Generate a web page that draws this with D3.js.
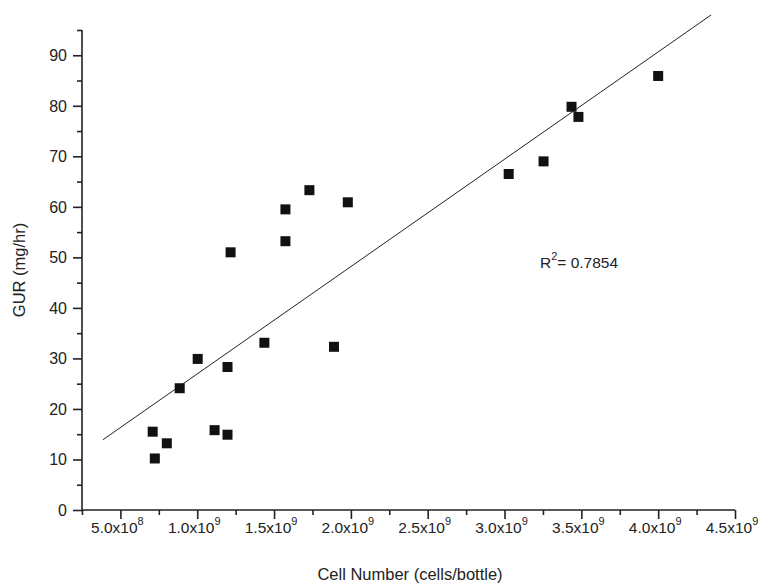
<!DOCTYPE html>
<html><head><meta charset="utf-8">
<script src="https://cdn.jsdelivr.net/npm/d3@7"></script>
<style>body{margin:0;background:#fff}text{font-family:"Liberation Sans",Arial,sans-serif;fill:#222}</style>
</head><body><svg id="c" width="770" height="585"></svg>
<script>
var cells = [7.1e8, 7.24e8, 8.02e8, 8.86e8, 1.003e9, 1.113e9, 1.197e9, 1.197e9, 1.217e9, 1.437e9,
  1.574e9, 1.574e9, 1.73e9, 1.89e9, 1.98e9, 3.027e9, 3.254e9, 3.436e9, 3.481e9, 4.0e9];
var gur = [15.5, 10.2, 13.2, 24.1, 29.9, 15.8, 14.9, 28.3, 51.0, 33.1,
  53.2, 59.5, 63.3, 32.3, 60.9, 66.5, 69.0, 79.8, 77.8, 85.9];
var fitX = [3.86e8, 4.345e9];
var fitSlope = 2.124e-8, fitIntercept = 5.7;
var xTicks = [5e8, 1e9, 1.5e9, 2e9, 2.5e9, 3e9, 3.5e9, 4e9, 4.5e9];
var yTicks = [0, 10, 20, 30, 40, 50, 60, 70, 80, 90];

var svg = d3.select("#c");
var x = d3.scaleLinear().domain([2.5e8, 4.5e9]).range([82, 735]);
var y = d3.scaleLinear().domain([0, 95]).range([510, 30]);

// x axis
var xa = svg.append("g").attr("transform", "translate(0,510)")
  .call(d3.axisBottom(x).tickValues(d3.range(2.5e8, 4.51e9, 2.5e8)).tickSize(5).tickFormat(""));
xa.selectAll(".tick line").attr("y2", (d, i) => i % 2 ? 9 : 5);
xa.selectAll("path,line").attr("stroke", "#222").attr("stroke-width", 1.6);
xa.select(".domain").attr("d", "M82,0H735");
xTicks.forEach(function (v) {
  var exp = Math.floor(Math.log10(v) + 1e-9), m = v / Math.pow(10, exp);
  var t = svg.append("text").attr("x", x(v) - 3).attr("y", 533).attr("text-anchor", "middle").attr("font-size", 15.5);
  t.append("tspan").text(m.toFixed(1) + "x10");
  t.append("tspan").attr("dy", -8).attr("font-size", 11).text(exp);
});

// y axis
var ya = svg.append("g").attr("transform", "translate(82,0)")
  .call(d3.axisLeft(y).tickValues(d3.range(0, 95.1, 5)).tickSize(5).tickFormat(""));
ya.selectAll(".tick line").attr("x2", (d) => d % 10 === 0 ? -9 : -5);
ya.selectAll("path,line").attr("stroke", "#222").attr("stroke-width", 1.6);
ya.select(".domain").attr("d", "M0,510V30");
yTicks.forEach(function (v) {
  svg.append("text").attr("x", 67).attr("y", y(v) + 6).attr("text-anchor", "end").attr("font-size", 16).text(v);
});

// fit line
svg.append("line").attr("x1", x(fitX[0])).attr("y1", y(fitIntercept + fitSlope * fitX[0]))
  .attr("x2", x(fitX[1])).attr("y2", y(fitIntercept + fitSlope * fitX[1]))
  .attr("stroke", "#222").attr("stroke-width", 1);

// points
svg.selectAll("rect.p").data(cells).enter().append("rect").attr("class", "p")
  .attr("x", (d) => x(d) - 5).attr("y", (d, i) => y(gur[i]) - 5)
  .attr("width", 10).attr("height", 10).attr("fill", "#111");

// R2
var r = svg.append("text").attr("x", 540).attr("y", 268).attr("font-size", 15.5);
r.append("tspan").text("R");
r.append("tspan").attr("dy", -8).attr("font-size", 11).text("2");
r.append("tspan").attr("dy", 8).text("= 0.7854");

// titles
svg.append("text").attr("x", 410).attr("y", 580).attr("text-anchor", "middle").attr("font-size", 16.5).text("Cell Number (cells/bottle)");
svg.append("text").attr("transform", "translate(25,270) rotate(-90)").attr("text-anchor", "middle").attr("font-size", 16.5).text("GUR (mg/hr)");
</script></body></html>
